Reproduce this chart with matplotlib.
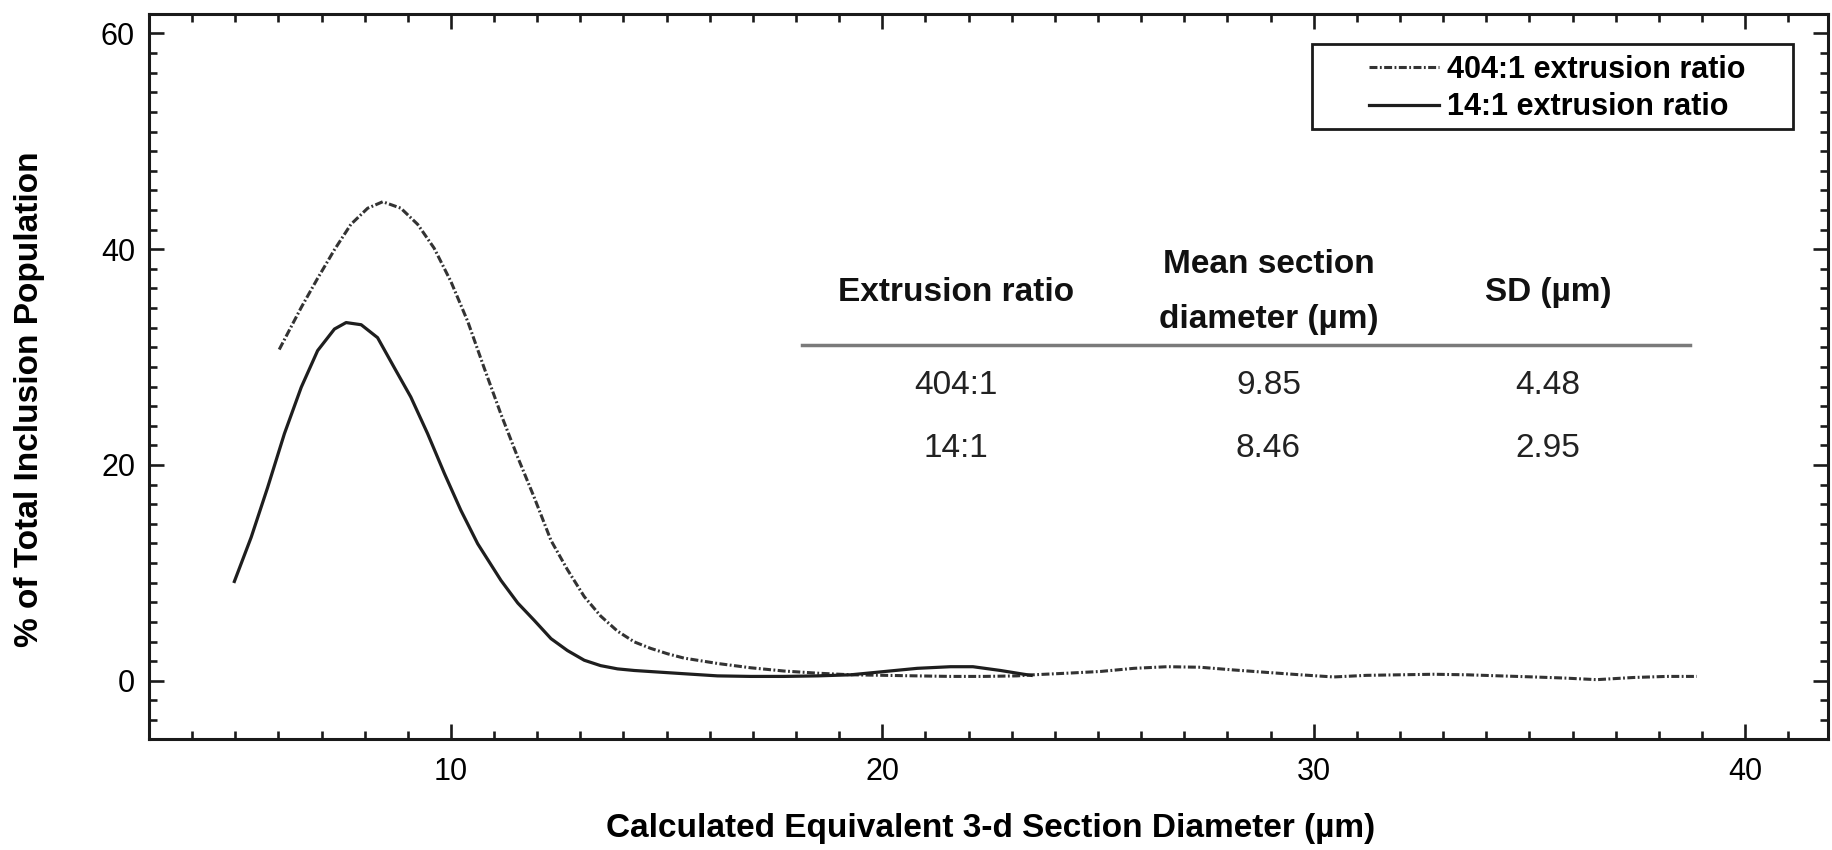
import matplotlib
matplotlib.use("Agg")
from matplotlib import pyplot as plt
from matplotlib.ticker import MultipleLocator, AutoMinorLocator
from matplotlib.patches import Rectangle

plt.rcParams['font.family'] = ['Liberation Sans', 'DejaVu Sans']

# 14:1 extrusion ratio (solid)
x_14 = [4.98, 5.37, 5.75, 6.14, 6.53, 6.91, 7.30, 7.57, 7.92, 8.30, 8.69, 9.07,
        9.46, 9.85, 10.23, 10.62, 11.16, 11.55, 11.93, 12.32, 12.70, 13.09, 13.47,
        13.86, 14.25, 14.63, 15.40, 16.18, 16.95, 17.72, 18.50, 19.27, 20.04,
        20.81, 21.58, 22.10, 22.74, 23.28, 23.45]
y_14 = [9.2, 13.3, 17.9, 22.9, 27.2, 30.6, 32.6, 33.2, 33.0, 31.8, 29.0, 26.3,
        22.9, 19.2, 15.8, 12.7, 9.3, 7.2, 5.6, 3.9, 2.8, 1.9, 1.4, 1.1, 0.95,
        0.85, 0.65, 0.45, 0.4, 0.4, 0.45, 0.55, 0.85, 1.15, 1.3, 1.3, 0.95, 0.6,
        0.5]

# 404:1 extrusion ratio (dash-dot)
x_404 = [6.02, 6.53, 6.91, 7.30, 7.68, 8.07, 8.42, 8.84, 9.23, 9.61, 10.00, 10.39,
         10.77, 11.16, 11.55, 11.93, 12.32, 12.70, 13.09, 13.47, 13.86, 14.25,
         14.63, 15.02, 15.40, 16.18, 16.95, 17.72, 18.50, 19.27, 20.04, 20.81,
         21.58, 22.35, 23.12, 23.50, 24.29, 25.06, 25.83, 26.60, 27.37, 28.14,
         28.92, 29.69, 30.46, 31.23, 32.00, 32.78, 33.55, 34.32, 35.10, 35.80,
         36.56, 37.41, 38.18, 38.88]
y_404 = [30.7, 34.6, 37.3, 39.95, 42.3, 43.8, 44.4, 43.8, 42.3, 40.1, 37.0, 33.3,
         29.0, 24.7, 20.7, 17.0, 13.0, 10.3, 7.8, 6.0, 4.6, 3.6, 3.0, 2.5, 2.1,
         1.6, 1.2, 0.9, 0.7, 0.55, 0.5, 0.45, 0.4, 0.4, 0.45, 0.55, 0.7, 0.86,
         1.15, 1.3, 1.25, 1.0, 0.77, 0.55, 0.35, 0.5, 0.55, 0.6, 0.55, 0.45, 0.35,
         0.25, 0.1, 0.3, 0.4, 0.4]

# inset table
table_header = ["Extrusion ratio", "Mean section\ndiameter (\u00b5m)", "SD (\u00b5m)"]
table_rows = [["404:1", "9.85", "4.48"],
              ["14:1", "8.46", "2.95"]]

fig = plt.figure(figsize=(18.32, 8.5), dpi=100)
ax = fig.add_axes([0.0813, 0.1306, 0.9165, 0.8529])

ax.plot(x_404, y_404, color='#333333', lw=2.2,
        linestyle=(0, (2.6, 0.8, 0.6, 0.8)), label='404:1 extrusion ratio')
ax.plot(x_14, y_14, color='#1e1e1e', lw=2.3, label='14:1 extrusion ratio')

ax.set_xlim(3.0, 41.92)
ax.set_ylim(-5.4, 61.8)
ax.xaxis.set_major_locator(MultipleLocator(10))
ax.xaxis.set_minor_locator(MultipleLocator(1))
ax.yaxis.set_major_locator(MultipleLocator(20))
ax.yaxis.set_minor_locator(AutoMinorLocator(11))

ax.tick_params(which='both', direction='in', top=True, right=True,
               width=1.9, color='#1a1a1a', labelsize=22)
ax.tick_params(which='major', length=10.5)
ax.tick_params(which='minor', length=5.5)
ax.tick_params(axis='x', pad=13)
ax.tick_params(axis='y', pad=10)
for sp in ax.spines.values():
    sp.set_linewidth(2.2)
    sp.set_color('#1a1a1a')

ax.set_xlabel("Calculated Equivalent 3-d Section Diameter (\u00b5m)",
              fontsize=24, fontweight='bold')
ax.set_ylabel("% of Total Inclusion Population", fontsize=24, fontweight='bold')
ax.xaxis.set_label_coords(0.501, -0.102)
ax.yaxis.set_label_coords(-0.062, 0.469)
ax.xaxis.label.set_va('top')

# legend: entries without frame, box drawn separately
leg = ax.legend(loc='upper left', bbox_to_anchor=(0.7266, 0.944), frameon=False,
                borderpad=0, borderaxespad=0, handlelength=2.3,
                handletextpad=0.25, labelspacing=0.25,
                prop={'size': 22, 'weight': 'bold'})
ax.add_patch(Rectangle((0.6927, 0.8414), 0.2864, 0.1172, transform=ax.transAxes,
                       fill=False, lw=2.0, edgecolor='#1a1a1a', zorder=5))

# table
col_x = [21.7, 28.95, 35.43]
header_y = 36.0
row_y = [27.4, 21.5]
for cx, h in zip(col_x, table_header):
    ax.text(cx, header_y, h, ha='center', va='center', fontsize=24,
            fontweight='bold', linespacing=2.0, color='#111111')
ax.plot([18.13, 38.72], [31.1, 31.1], color='#7a7a7a', lw=2.5)
for ry, row in zip(row_y, table_rows):
    for cx, val in zip(col_x, row):
        ax.text(cx, ry, val, ha='center', va='center', fontsize=24,
                color='#222222')

fig.savefig('out.png', dpi=100)
